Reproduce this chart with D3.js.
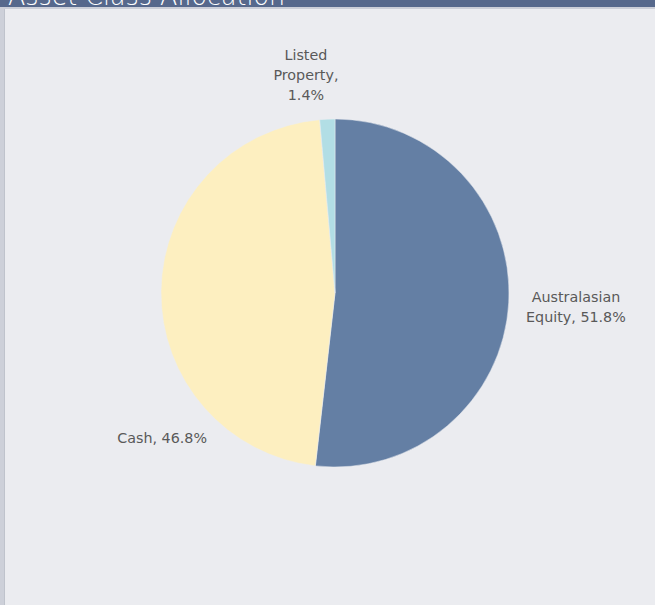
<!DOCTYPE html>
<html>
<head>
<meta charset="utf-8">
<script src="https://cdn.jsdelivr.net/npm/d3@7"></script>
<style>
  html, body { margin: 0; padding: 0; background: #ebecf0; }
  svg { display: block; }
</style>
</head>
<body>
<script>
// Data
const categories = ["Australasian Equity", "Cash", "Listed Property"];
const values = [51.8, 46.8, 1.4];
const labelLines = [["Australasian", "Equity, 51.8%"], ["Cash, 46.8%"], ["Listed", "Property,", "1.4%"]];
const colors = ["#647fa4", "#fdefc0", "#b2dee5"];

const width = 655, height = 605;
const cx = 335, cy = 293, radius = 174;

const svg = d3.select("body").append("svg")
  .attr("width", width)
  .attr("height", height);

// panel
svg.append("rect").attr("width", width).attr("height", height).attr("fill", "#ebecf0");
svg.append("rect").attr("x", 0).attr("y", 0).attr("width", 4).attr("height", height).attr("fill", "#cdd0d9");
svg.append("line").attr("x1", 4.5).attr("x2", 4.5).attr("y1", 0).attr("y2", height)
  .attr("stroke", "#bfc3cc").attr("stroke-width", 1);
svg.append("rect").attr("x", 0).attr("y", 6).attr("width", width).attr("height", 3).attr("fill", "#cbced8");
svg.append("rect").attr("x", 0).attr("y", 0).attr("width", width).attr("height", 7).attr("fill", "#56688c");
svg.append("text")
  .attr("x", 8).attr("y", 5)
  .attr("fill", "#ffffff")
  .attr("font-family", "'DejaVu Sans', sans-serif")
  .attr("font-weight", 300)
  .attr("font-size", 27)
  .attr("textLength", 277)
  .attr("lengthAdjust", "spacingAndGlyphs")
  .text("Asset Class Allocation");

// pie
const pie = d3.pie().sort(null).value(d => d);
const arc = d3.arc().innerRadius(0).outerRadius(radius);
const arcs = pie(values);

const g = svg.append("g").attr("transform", `translate(${cx},${cy})`);
g.selectAll("path")
  .data(arcs)
  .join("path")
  .attr("d", arc)
  .attr("fill", (d, i) => colors[i])
  .attr("stroke", "#ebecf0")
  .attr("stroke-width", 0.5);

// labels (placed like the original best-fit positions)
const labelPos = [
  { angle: 93.3, r: 1.387 },
  { angle: 230, r: 1.297 },
  { angle: -7.6, r: 1.264 }
];
const lineH = 20;
const labels = g.selectAll("text.lbl")
  .data(arcs)
  .join("text")
  .attr("class", "lbl")
  .attr("text-anchor", "middle")
  .attr("fill", "#595959")
  .attr("font-family", "'DejaVu Sans', sans-serif")
  .attr("font-size", 14.3)
  .attr("transform", (d, i) => {
    const a = labelPos[i].angle * Math.PI / 180;
    const rr = radius * labelPos[i].r;
    return `translate(${rr * Math.sin(a)},${-rr * Math.cos(a)})`;
  });

labels.each(function (d, i) {
  const lines = labelLines[i];
  const off = -(lines.length - 1) * lineH / 2;
  d3.select(this).selectAll("tspan")
    .data(lines)
    .join("tspan")
    .attr("x", 0)
    .attr("y", (t, j) => off + j * lineH)
    .attr("dy", "0.35em")
    .text(t => t);
});
</script>
</body>
</html>
